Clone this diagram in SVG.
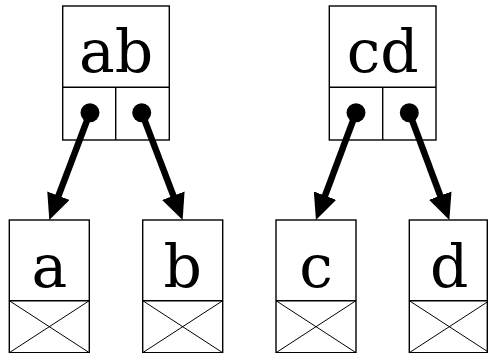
<svg xmlns="http://www.w3.org/2000/svg" width="488" height="353" viewBox="0 0 488 353">
<style>
.box{fill:none;stroke:#000;stroke-width:1.4}
.thin{fill:none;stroke:#000;stroke-width:1}
.lbl{font-family:'DejaVu Serif','Liberation Serif',serif;font-size:60px;fill:#000;text-anchor:middle}
.arr{stroke:#000;stroke-width:6.5;fill:none;marker-end:url(#ah)}
.dot{fill:#000}
</style>
<defs>
<marker id="ah" markerUnits="userSpaceOnUse" viewBox="0 0 26 24" markerWidth="26" markerHeight="24" refX="13" refY="12" orient="auto">
<path d="M0,0 L26,12 L0,24 Z" fill="#000"/>
</marker>
</defs>
<rect width="488" height="353" fill="#fff"/>
<g id="node-ab">
<rect class="box" x="62.7" y="6" width="106.6" height="134"/>
<line class="box" x1="62.7" y1="87.3" x2="169.3" y2="87.3"/>
<line class="box" x1="115.7" y1="87.3" x2="115.7" y2="140"/>
<text class="lbl" x="116" y="72">ab</text>
<circle class="dot" cx="90" cy="112.7" r="9.5"/>
<circle class="dot" cx="141.7" cy="112.7" r="9.5"/>
</g>
<g id="node-cd">
<rect class="box" x="329.3" y="6" width="106.7" height="134"/>
<line class="box" x1="329.3" y1="87.3" x2="436" y2="87.3"/>
<line class="box" x1="382.7" y1="87.3" x2="382.7" y2="140"/>
<text class="lbl" x="382.7" y="72">cd</text>
<circle class="dot" cx="356" cy="112.7" r="9.5"/>
<circle class="dot" cx="409.3" cy="112.7" r="9.5"/>
</g>
<g id="node-a">
<rect class="box" x="9.3" y="220" width="80" height="132.7"/>
<line class="box" x1="9.3" y1="300.7" x2="89.3" y2="300.7"/>
<line class="thin" x1="9.3" y1="300.7" x2="89.3" y2="352.7"/>
<line class="thin" x1="89.3" y1="300.7" x2="9.3" y2="352.7"/>
<text class="lbl" x="49.3" y="286.7">a</text>
</g>
<g id="node-b">
<rect class="box" x="142.7" y="220" width="80" height="132.7"/>
<line class="box" x1="142.7" y1="300.7" x2="222.7" y2="300.7"/>
<line class="thin" x1="142.7" y1="300.7" x2="222.7" y2="352.7"/>
<line class="thin" x1="222.7" y1="300.7" x2="142.7" y2="352.7"/>
<text class="lbl" x="182.7" y="286.7">b</text>
</g>
<g id="node-c">
<rect class="box" x="276" y="220" width="80" height="132.7"/>
<line class="box" x1="276" y1="300.7" x2="356" y2="300.7"/>
<line class="thin" x1="276" y1="300.7" x2="356" y2="352.7"/>
<line class="thin" x1="356" y1="300.7" x2="276" y2="352.7"/>
<text class="lbl" x="316" y="286.7">c</text>
</g>
<g id="node-d">
<rect class="box" x="409.3" y="220" width="78" height="132.7"/>
<line class="box" x1="409.3" y1="300.7" x2="487.3" y2="300.7"/>
<line class="thin" x1="409.3" y1="300.7" x2="489.3" y2="352.7"/>
<line class="thin" x1="489.3" y1="300.7" x2="409.3" y2="352.7"/>
<text class="lbl" x="449.3" y="286.7">d</text>
</g>
<g id="connectors">
<line class="arr" x1="90" y1="112.7" x2="53.9" y2="207.8"/>
<line class="arr" x1="141.7" y1="112.7" x2="178" y2="207.8"/>
<line class="arr" x1="356" y1="112.7" x2="320.5" y2="207.8"/>
<line class="arr" x1="409.3" y1="112.7" x2="444.8" y2="207.8"/>
</g>
</svg>
